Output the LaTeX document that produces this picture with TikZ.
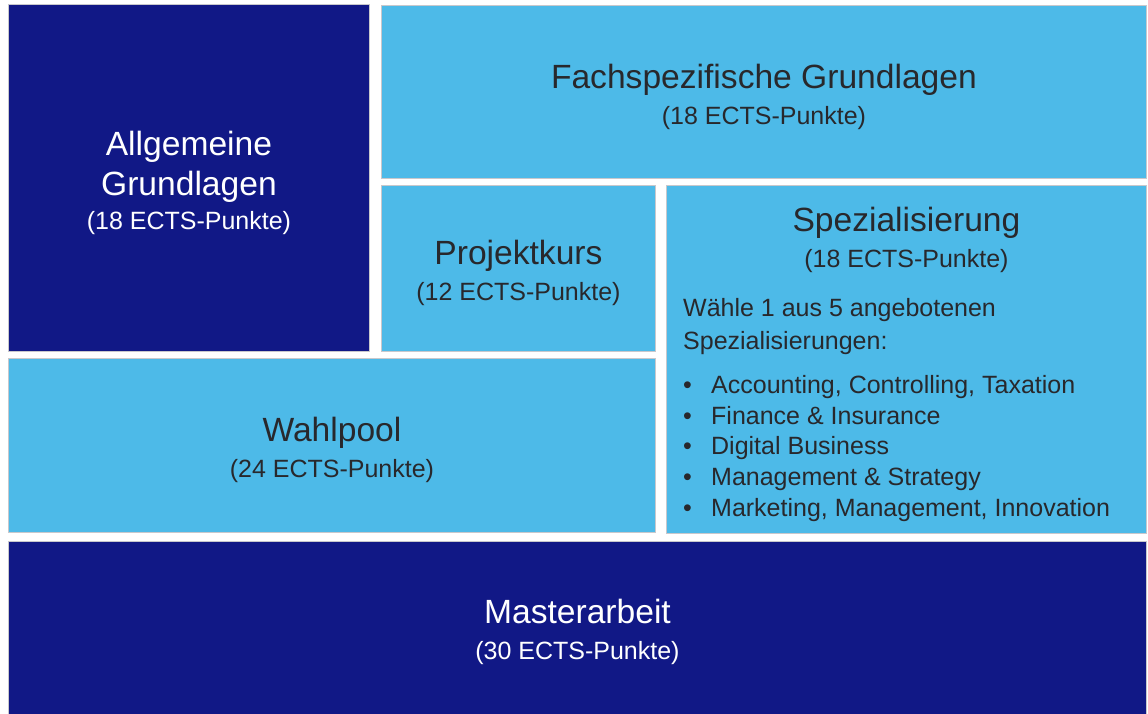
\documentclass[tikz,border=0pt]{standalone}
\usepackage{fontspec}
\setmainfont{Liberation Sans}
\definecolor{navy}{RGB}{17, 24, 134}
\definecolor{skyblue}{RGB}{77, 186, 232}
\definecolor{inkgray}{RGB}{40, 40, 44}
\definecolor{rimgray}{RGB}{200, 200, 204}
\usetikzlibrary{positioning}
\newcommand{\headfont}{\fontsize{33.6}{40}\selectfont}
\newcommand{\ectsfont}{\fontsize{25}{36}\selectfont}
\tikzset{
	block/.style={rectangle, draw=rimgray, line width=0.9pt, inner sep=0pt, anchor=north west},
	darkblock/.style={block, fill=navy},
	lightblock/.style={block, fill=skyblue},
	plaintext/.style={inner sep=0pt, text=inkgray, font=\ectsfont},
	title/.style={plaintext, align=center},
	darktitle/.style={title, text=white},
}

\begin{document}
\begin{tikzpicture}[x=1pt, y=1pt]
		\useasboundingbox[fill=white] (0,0) rectangle (1148,-714);
		\begin{scope}
		\clip (0,0) rectangle (1148,-714);
		\node[darkblock, minimum width=361pt, minimum height=347pt] (allg) at (8,-4) {};
		\node[lightblock, minimum width=765pt, minimum height=173pt] (fach) at (381,-5) {};
		\node[lightblock, minimum width=274pt, minimum height=166pt] (proj) at (381,-185) {};
		\node[lightblock, minimum width=480pt, minimum height=348pt] (spez) at (666,-185) {};
		\node[lightblock, minimum width=647pt, minimum height=174pt] (wahl) at (8,-358) {};
		\node[darkblock, minimum width=1138pt, minimum height=180pt] (master) at (8,-541) {};
		\end{scope}
		% titles
		\node[darktitle] (allgtext) at ([yshift=-5pt]allg.center) {{\headfont Allgemeine}\\[4pt]{\headfont Grundlagen}\\[-2pt](18 ECTS-Punkte)};
		\node[title] (fachtext) at ([yshift=-4.5pt]fach.center) {{\headfont Fachspezifische Grundlagen}\\(18 ECTS-Punkte)};
		\node[title] (projtext) at ([yshift=-4.5pt]proj.center) {{\headfont Projektkurs}\\(12 ECTS-Punkte)};
		\node[title] (wahltext) at ([yshift=-4.5pt]wahl.center) {{\headfont Wahlpool}\\(24 ECTS-Punkte)};
		\node[darktitle] (mastertext) at (master.center) {{\headfont Masterarbeit}\\(30 ECTS-Punkte)};
		% Spezialisierung
		\node[title, anchor=north] (spezhead) at ([yshift=-22pt]spez.north) {{\headfont Spezialisierung}\\(18 ECTS-Punkte)};
		\node[plaintext, align=left, anchor=north west, font=\fontsize{25}{33}\selectfont] (spezintro) at (683,-298) {Wähle 1 aus 5 angebotenen\\Spezialisierungen:};
		\node[plaintext, align=left, anchor=north west, font=\fontsize{25}{30.8}\selectfont] (spezlist) at (683,-375) {%
			\makebox[28pt][l]{\textbullet}Accounting, Controlling, Taxation\\
			\makebox[28pt][l]{\textbullet}Finance \& Insurance\\
			\makebox[28pt][l]{\textbullet}Digital Business\\
			\makebox[28pt][l]{\textbullet}Management \& Strategy\\
			\makebox[28pt][l]{\textbullet}Marketing, Management, Innovation};
	\end{tikzpicture}
\end{document}
